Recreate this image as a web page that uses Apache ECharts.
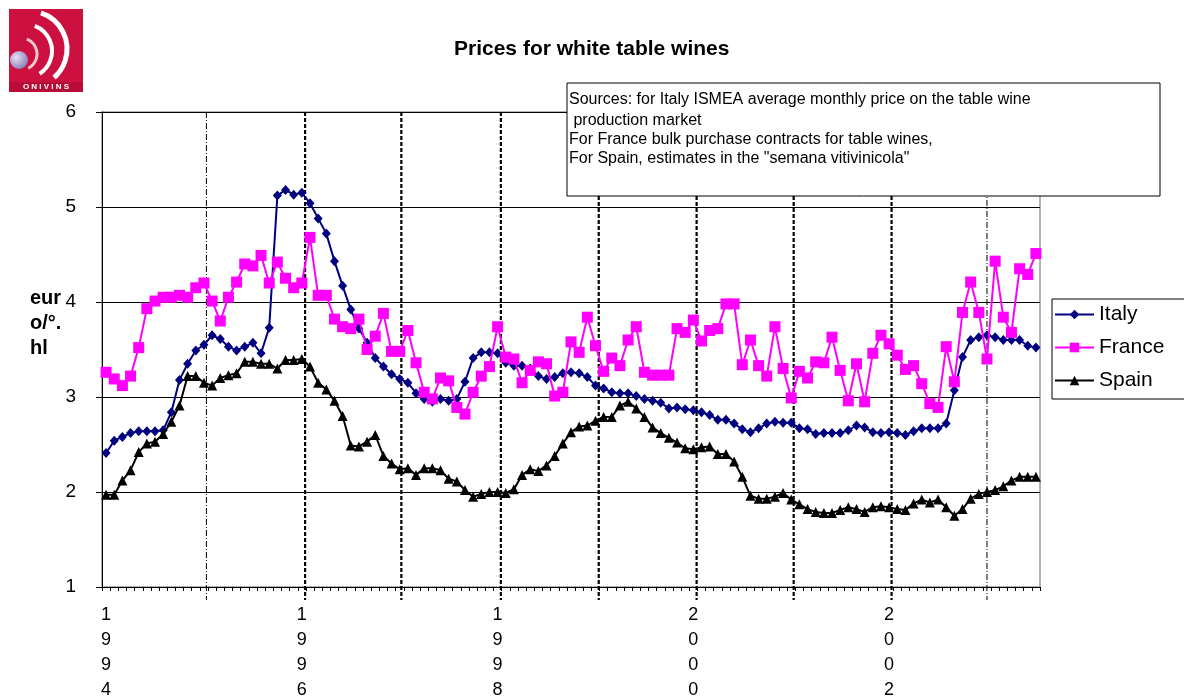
<!DOCTYPE html>
<html>
<head>
<meta charset="utf-8">
<script src="https://cdn.jsdelivr.net/npm/echarts@6/dist/echarts.min.js"></script>
<style>
html,body{margin:0;padding:0;background:#fff;}
#chart{width:1184px;height:699px;}
</style>
</head>
<body>
<div id="chart"></div>
<script>
// ---------- DATA ----------
const firstYear = 1994;
const monthCount = 115; // Jan 1994 .. Jul 2003
const months = [];
for (let i = 0; i < monthCount; i++) {
  const y = firstYear + Math.floor(i / 12);
  const m = (i % 12) + 1;
  months.push(y + '-' + (m < 10 ? '0' + m : m));
}

const italy = [
  2.41, 2.54, 2.58, 2.62, 2.64, 2.64, 2.64, 2.65, 2.84, 3.18, 3.35, 3.49, 3.55, 3.65, 3.61, 3.53, 3.49, 3.53, 3.57, 3.46, 3.73, 5.12, 5.18, 5.13, 5.15, 5.04,
  4.88, 4.72, 4.43, 4.17, 3.92, 3.72, 3.57, 3.41, 3.32, 3.24, 3.19, 3.15, 3.04, 2.98, 2.95, 2.98, 2.96, 2.98, 3.16, 3.41, 3.47, 3.47, 3.46, 3.36, 3.33,
  3.33, 3.30, 3.22, 3.19, 3.21, 3.25, 3.26, 3.25, 3.21, 3.12, 3.09, 3.05, 3.04, 3.04, 3.01, 2.98, 2.96, 2.94, 2.88, 2.89, 2.87, 2.86, 2.84, 2.81,
  2.76, 2.76, 2.72, 2.66, 2.63, 2.67, 2.72, 2.74, 2.73, 2.73, 2.67, 2.66, 2.61, 2.62, 2.62, 2.62, 2.65, 2.70, 2.68, 2.63, 2.62, 2.63, 2.62, 2.60,
  2.64, 2.67, 2.67, 2.67, 2.72, 3.07, 3.42, 3.60, 3.63, 3.65, 3.63, 3.60, 3.60, 3.60, 3.54, 3.52
];
const france = [
  3.26, 3.19, 3.12, 3.22, 3.52, 3.93, 4.01, 4.05, 4.05, 4.07, 4.05, 4.15, 4.20, 4.01, 3.80, 4.05, 4.21, 4.40, 4.38, 4.49, 4.20, 4.42, 4.25, 4.15, 4.20, 4.68,
  4.07, 4.07, 3.82, 3.74, 3.72, 3.82, 3.50, 3.64, 3.88, 3.48, 3.48, 3.70, 3.36, 3.05, 2.98, 3.20, 3.17, 2.89, 2.82, 3.05, 3.22, 3.32, 3.74, 3.42, 3.40,
  3.15, 3.28, 3.37, 3.35, 3.01, 3.05, 3.58, 3.47, 3.84, 3.54, 3.27, 3.41, 3.33, 3.60, 3.74, 3.26, 3.23, 3.23, 3.23, 3.72, 3.68, 3.81, 3.59, 3.70,
  3.72, 3.98, 3.98, 3.34, 3.60, 3.33, 3.22, 3.74, 3.30, 2.99, 3.27, 3.20, 3.37, 3.36, 3.63, 3.28, 2.96, 3.35, 2.95, 3.46, 3.65, 3.56, 3.44, 3.29,
  3.33, 3.14, 2.93, 2.89, 3.53, 3.16, 3.89, 4.21, 3.89, 3.40, 4.43, 3.84, 3.68, 4.35, 4.29, 4.51
];
const spain = [
  1.97, 1.97, 2.12, 2.23, 2.42, 2.51, 2.53, 2.61, 2.74, 2.91, 3.22, 3.22, 3.15, 3.12, 3.20, 3.23, 3.25, 3.37, 3.37, 3.35, 3.35, 3.30, 3.39, 3.39, 3.40, 3.32,
  3.15, 3.08, 2.96, 2.80, 2.49, 2.48, 2.53, 2.60, 2.38, 2.30, 2.24, 2.25, 2.18, 2.25, 2.25, 2.23, 2.14, 2.11, 2.02, 1.95, 1.98, 2.00, 2.00, 1.99, 2.03,
  2.18, 2.24, 2.22, 2.28, 2.38, 2.51, 2.63, 2.69, 2.70, 2.75, 2.79, 2.79, 2.91, 2.95, 2.88, 2.79, 2.68, 2.62, 2.57, 2.52, 2.46, 2.45, 2.47, 2.48,
  2.40, 2.40, 2.32, 2.16, 1.96, 1.93, 1.93, 1.95, 1.99, 1.92, 1.87, 1.82, 1.79, 1.78, 1.78, 1.81, 1.84, 1.82, 1.79, 1.84, 1.85, 1.84, 1.82, 1.81,
  1.88, 1.92, 1.89, 1.92, 1.84, 1.75, 1.82, 1.93, 1.98, 2.00, 2.02, 2.06, 2.12, 2.16, 2.16, 2.16
];
// year separator lines (position in month index units)
const yearLines = [12.3, 24.4, 36.2, 48.4, 60.4, 72.4, 84.3, 96.3, 108.0];
const seriesNames = ['Italy', 'France', 'Spain'];
const sourceLines = [
  'Sources: for Italy ISMEA average monthly price on the table wine',
  ' production market',
  'For France bulk purchase contracts for table wines,',
  'For Spain, estimates in the "semana vitivinicola"'
];

// ---------- CHART ----------
const FONT = '"Liberation Sans", Arial, Helvetica, sans-serif';
const chart = echarts.init(document.getElementById('chart'), null, {renderer: 'canvas'});

const sourceText = sourceLines.map((t, i) => ({
  type: 'text', left: 569, top: [92, 113, 132, 151][i], z: 51,
  style: {text: t, font: '16px ' + FONT, fill: '#000'}
}));

const option = {
  animation: false,
  backgroundColor: '#fff',
  title: {
    text: 'Prices for white table wines',
    left: 449, top: 34,
    textStyle: {fontFamily: FONT, fontSize: 21, fontWeight: 'bold', color: '#000'}
  },
  grid: {
    left: 102, right: 144, top: 112, bottom: 112,
    outerBoundsMode: 'none', containLabel: false,
    show: true, borderColor: '#9a9a9a', borderWidth: 1.5, backgroundColor: 'transparent'
  },
  legend: {
    data: seriesNames,
    orient: 'vertical', left: 1052, top: 299,
    padding: [5, 40, 8, 2],
    itemWidth: 39, itemHeight: 12, itemGap: 12,
    borderColor: '#000', borderWidth: 1, backgroundColor: '#fff',
    textStyle: {fontFamily: FONT, fontSize: 21, color: '#000'}
  },
  xAxis: [{
    type: 'category',
    data: months,
    boundaryGap: true,
    axisLine: {onZero: false, lineStyle: {color: '#000', width: 1}},
    axisTick: {show: true, interval: 0, length: 4, lineStyle: {color: '#000'}},
    axisLabel: {
      interval: function (idx) { return idx % 24 === 0; },
      formatter: function (v) { return v.slice(0, 4).split('').join('\n'); },
      fontFamily: FONT, fontSize: 18, color: '#000', lineHeight: 25, margin: 16
    },
    splitLine: {show: false}
  }, {
    type: 'value', min: -0.5, max: monthCount - 0.5, show: false
  }],
  yAxis: {
    type: 'value', min: 1, max: 6, interval: 1,
    axisLine: {show: true, onZero: false, lineStyle: {color: '#000', width: 1}},
    axisTick: {show: true, length: 6, lineStyle: {color: '#000'}},
    axisLabel: {fontFamily: FONT, fontSize: 19, color: '#000', margin: 26},
    splitLine: {show: true, lineStyle: {color: '#000', width: 1}}
  },
  series: [
    {
      type: 'custom', xAxisIndex: 1, yAxisIndex: 0, silent: true, z: 1,
      data: yearLines.map(v => [v]),
      renderItem: function (params, api) {
        const x = api.value(0);
        const top = api.coord([x, 6]);
        const bot = api.coord([x, 1]);
        const thin = params.dataIndex === 0 || params.dataIndex === yearLines.length - 1;
        return {
          type: 'line',
          shape: {x1: top[0], y1: top[1], x2: bot[0], y2: bot[1] + 13},
          style: thin
            ? {stroke: '#000', lineWidth: 1, lineDash: [6, 2, 1, 2]}
            : {stroke: '#000', lineWidth: 2.2, lineDash: [4, 2]}
        };
      }
    },
    {
      name: 'Italy', type: 'line', data: italy, z: 3,
      showAllSymbol: true,
      symbol: 'diamond', symbolSize: [9, 10],
      lineStyle: {color: '#000080', width: 2},
      itemStyle: {color: '#000080'}
    },
    {
      name: 'France', type: 'line', data: france, z: 4,
      showAllSymbol: true,
      symbol: 'rect', symbolSize: 11,
      lineStyle: {color: '#ff00ff', width: 2},
      itemStyle: {color: '#ff00ff'}
    },
    {
      name: 'Spain', type: 'line', data: spain, z: 5,
      showAllSymbol: true,
      symbol: 'triangle', symbolSize: [10, 10],
      lineStyle: {color: '#000000', width: 2},
      itemStyle: {color: '#000000'}
    }
  ],
  graphic: [
    // y axis name
    {type: 'text', left: 30, top: 286, style: {text: 'eur\no/°.\nhl', font: 'bold 20px ' + FONT, fill: '#000', lineHeight: 25}},
    // source box
    {type: 'rect', shape: {x: 567, y: 83, width: 593, height: 113}, style: {fill: '#fff', stroke: '#000', lineWidth: 1}, z: 50},
    ...sourceText,
    // logo
    {type: 'group', x: 9, y: 9, z: 60, children: [
      {type: 'rect', shape: {x: 0, y: 0, width: 74, height: 83}, style: {fill: '#cc1040'}},
      {type: 'arc', shape: {cx: 20, cy: 40, r: 38, startAngle: -1.25, endAngle: 0.85}, style: {stroke: '#fff', lineWidth: 5, fill: null}},
      {type: 'arc', shape: {cx: 16, cy: 42, r: 27, startAngle: -1.2, endAngle: 1.0}, style: {stroke: '#fff', lineWidth: 4, fill: null}},
      {type: 'arc', shape: {cx: 12, cy: 45, r: 16, startAngle: -1.2, endAngle: 1.1}, style: {stroke: '#f6c6d0', lineWidth: 3, fill: null}},
      {type: 'circle', shape: {cx: 10, cy: 51, r: 9}, style: {fill: {type: 'radial', x: 0.35, y: 0.35, r: 0.7, colorStops: [{offset: 0, color: '#e6e0f5'}, {offset: 1, color: '#8a7fb8'}]}}},
      {type: 'rect', shape: {x: 0, y: 73, width: 74, height: 10}, style: {fill: '#b80c36'}},
      {type: 'text', x: 37, y: 78, style: {text: 'O N I V I N S', font: 'bold 8px ' + FONT, fill: '#fff', align: 'center', verticalAlign: 'middle'}}
    ]}
  ]
};
chart.setOption(option);
</script>
</body>
</html>
